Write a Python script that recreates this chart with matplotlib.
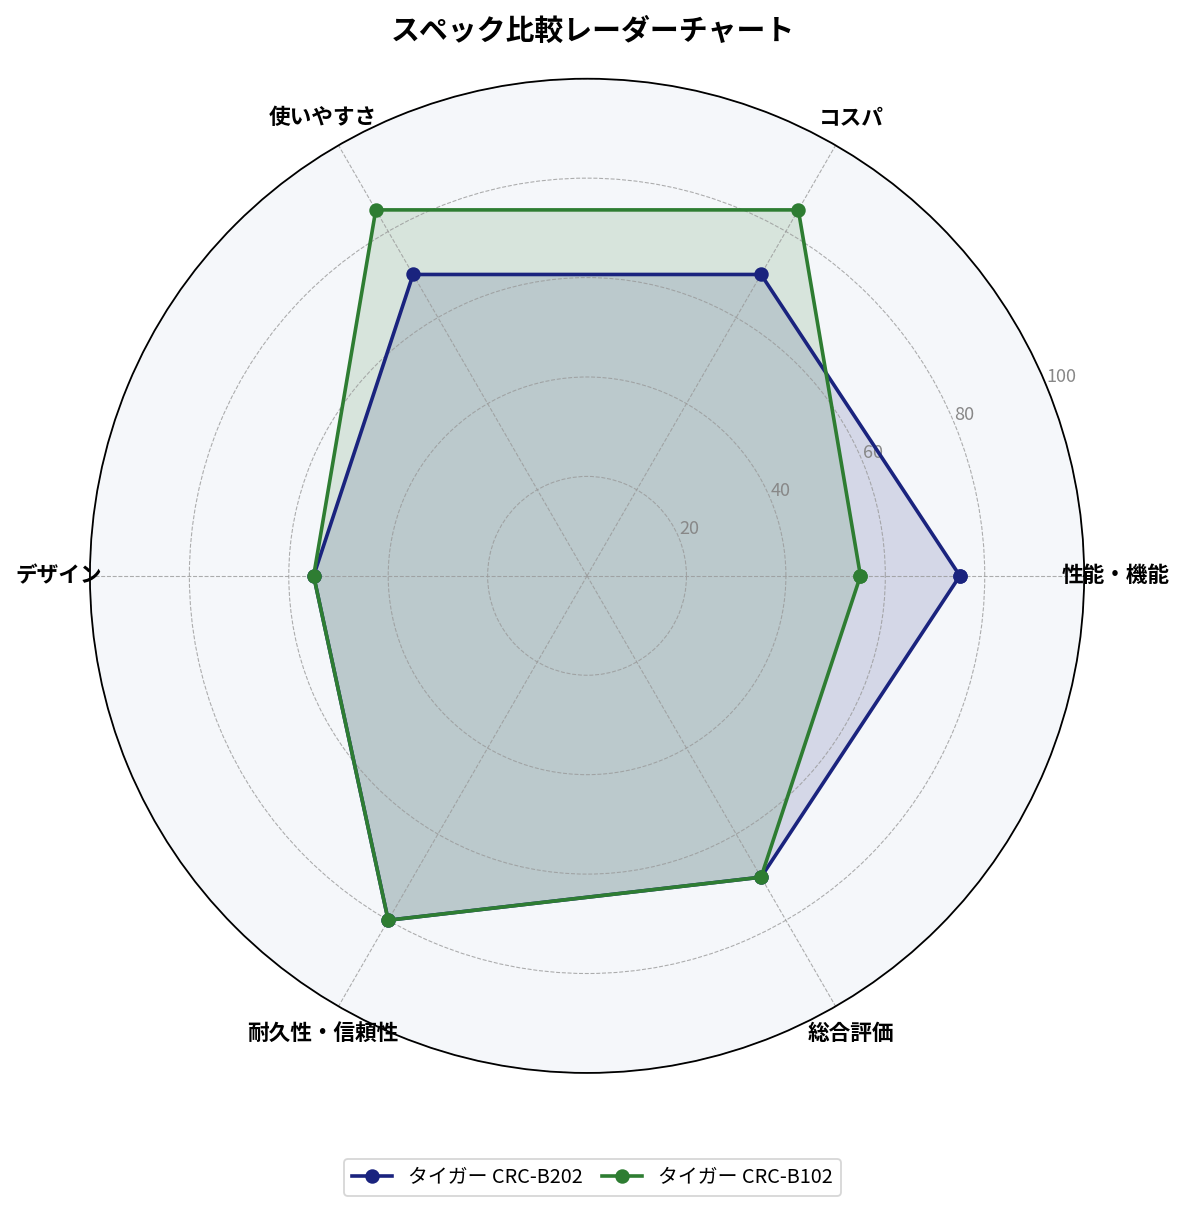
import numpy as np
import matplotlib
matplotlib.use('Agg')
import matplotlib.pyplot as plt

plt.rcParams['font.family'] = ['Noto Sans CJK JP', 'DejaVu Sans']

# データ
categories = ['性能・機能', 'コスパ', '使いやすさ', 'デザイン', '耐久性・信頼性', '総合評価']
series_names = ['タイガー CRC-B202', 'タイガー CRC-B102']
values_b202 = [75, 70, 70, 55, 80, 70]
values_b102 = [55, 85, 85, 55, 80, 70]
r_ticks = [20, 40, 60, 80, 100]
colors = ['#1a237e', '#2e7d32']

n = len(categories)
angles = np.linspace(0, 2 * np.pi, n, endpoint=False).tolist()
angles_closed = angles + angles[:1]

dpi = 130
fig = plt.figure(figsize=(1185 / dpi, 1211 / dpi), dpi=dpi)
ax = fig.add_axes([0.0759, 0.114, 0.839, 0.821], polar=True)
ax.set_facecolor('#f5f7fa')

for name, vals, col in zip(series_names, [values_b202, values_b102], colors):
    v = vals + vals[:1]
    ax.plot(angles_closed, v, color=col, linewidth=2, marker='o', markersize=7, label=name)
    ax.fill(angles_closed, v, color=col, alpha=0.15)

ax.set_ylim(0, 100)
ax.set_yticks(r_ticks)
ax.set_yticklabels([str(t) for t in r_ticks], color='#888888', fontsize=10)
ax.set_rlabel_position(22.5)
ax.set_xticks(angles)
ax.set_xticklabels(categories, fontsize=12, fontweight='bold')
ax.tick_params(axis='x', pad=7)
ax.grid(color='#999999', linestyle='--', linewidth=0.6, alpha=0.8)
ax.spines['polar'].set_color('black')
ax.spines['polar'].set_linewidth(1.0)

fig.suptitle('スペック比較レーダーチャート', fontsize=16, fontweight='bold', y=0.987)
fig.legend(loc='lower center', ncol=2, fontsize=11, columnspacing=1.0,
           bbox_to_anchor=(0.5, 0.004))

fig.savefig('out.png', dpi=dpi)
